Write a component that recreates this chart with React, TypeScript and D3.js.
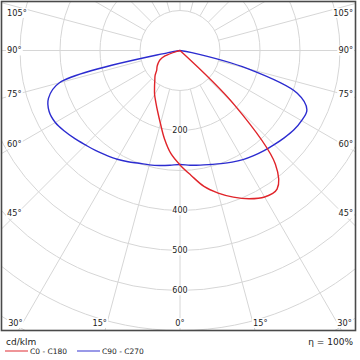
import React from "react";
import * as d3 from "d3";

// Photometric data (cd/klm) sampled every 5° from nadir (0°) to horizontal (90°)
const ANGLES = [0, 5, 10, 15, 20, 25, 30, 35, 40, 45, 50, 55, 60, 65, 70, 75, 80, 85, 90];
const C0 = [286, 313, 345, 369, 390, 409, 423, 423, 371, 193, 0, 0, 0, 0, 0, 0, 0, 0, 0];
const C180 = [286, 259, 224, 189, 163, 143, 127, 111, 98, 88, 76, 70, 63, 55, 40, 8, 0, 0, 0];
const C90 = [286, 288, 291, 295, 301, 308, 315, 321, 327, 333, 340, 347, 351, 350, 312, 175, 30, 0, 0];
const C270 = [285, 288, 292, 296, 300, 307, 314, 320, 327, 334, 343, 352, 360, 361, 350, 312, 30, 0, 0];

const RINGS = [100, 200, 300, 400, 500, 600, 700, 800, 900];
const RING_LABELS = [200, 400, 500, 600];
const SPOKES = d3.range(0, 360, 15);
const ANGLE_LABELS = [105, 90, 75, 60, 45, 30, 15];

const LEGEND = [
  { name: "C0 - C180", color: "#e0242a" },
  { name: "C90 - C270", color: "#2c2cd0" },
];

const W = 360, H = 360;
const FX0 = 1.5, FY0 = 1.5, FX1 = 355.5, FY1 = 330.5;
const CX = 180, CY = 50.5;
const FONT = "DejaVu Sans, Verdana, sans-serif";

const r = d3.scaleLinear().domain([0, 100]).range([0, 40]);
const rad = (deg: number) => (deg * Math.PI) / 180;

function curvePoints(left: number[], right: number[]): [number, number][] {
  const pts: [number, number][] = [];
  for (let i = ANGLES.length - 1; i >= 0; i--) {
    const a = rad(ANGLES[i]);
    const rr = r(left[i]);
    pts.push([CX - rr * Math.sin(a), CY + rr * Math.cos(a)]);
  }
  for (let i = 1; i < ANGLES.length; i++) {
    const a = rad(ANGLES[i]);
    const rr = r(right[i]);
    pts.push([CX + rr * Math.sin(a), CY + rr * Math.cos(a)]);
  }
  return pts;
}

const line = d3.line<[number, number]>().curve(d3.curveCatmullRom.alpha(0.5));

function Label({ x, y, text, anchor, size }: { x: number; y: number; text: string; anchor: string; size: number }) {
  const w = text.length * size * 0.6;
  const x0 = anchor === "start" ? x : anchor === "end" ? x - w : x - w / 2;
  return (
    <g>
      <rect x={x0 - 1} y={y - size * 0.6} width={w + 2} height={size * 1.2} fill="#fff" />
      <text x={x} y={y} dy="0.35em" textAnchor={anchor} fontSize={size} fill="#222" fontFamily={FONT}>
        {text}
      </text>
    </g>
  );
}

export default function App() {
  const red = curvePoints(C180, C0);
  const blue = curvePoints(C270, C90);
  const inner = r(100);
  const far = 700;

  const angleLabels: { x: number; y: number; text: string; anchor: string }[] = [];
  ANGLE_LABELS.forEach((a) => {
    const t = `${a}°`;
    if (a >= 45) {
      const dy = 163 / Math.tan(rad(a));
      const y = Math.max(13, CY + dy);
      angleLabels.push({ x: 7, y, text: t, anchor: "start" });
      angleLabels.push({ x: 353, y, text: t, anchor: "end" });
    } else {
      const y = 323;
      const dx = (y - CY) * Math.tan(rad(a));
      angleLabels.push({ x: CX - dx, y, text: t, anchor: "end" });
      angleLabels.push({ x: CX + dx, y, text: t, anchor: "start" });
    }
  });
  angleLabels.push({ x: CX, y: 323, text: "0°", anchor: "middle" });

  return (
    <svg width={W} height={H} style={{ position: "absolute", left: 0, top: 0, background: "#fff" }}>
      <defs>
        <clipPath id="frame">
          <rect x={FX0} y={FY0} width={FX1 - FX0} height={FY1 - FY0} />
        </clipPath>
      </defs>
      <rect x={0} y={0} width={W} height={H} fill="#fff" />
      <g clipPath="url(#frame)">
        {RINGS.map((v) => (
          <circle key={v} cx={CX} cy={CY} r={r(v)} fill="none" stroke="#d6d6d6" strokeWidth={1} />
        ))}
        {SPOKES.map((a) => (
          <line
            key={a}
            x1={CX + inner * Math.sin(rad(a))}
            y1={CY + inner * Math.cos(rad(a))}
            x2={CX + far * Math.sin(rad(a))}
            y2={CY + far * Math.cos(rad(a))}
            stroke="#d6d6d6"
            strokeWidth={1}
          />
        ))}
        {RING_LABELS.map((v) => (
          <Label key={v} x={CX} y={CY + r(v)} text={String(v)} anchor="middle" size={8} />
        ))}
        {angleLabels.map((l, i) => (
          <Label key={i} x={l.x} y={l.y} text={l.text} anchor={l.anchor} size={8.2} />
        ))}
        <path d={line(blue) || ""} fill="none" stroke={LEGEND[1].color} strokeWidth={1.4} />
        <path d={line(red) || ""} fill="none" stroke={LEGEND[0].color} strokeWidth={1.4} />
      </g>
      <rect x={FX0} y={FY0} width={FX1 - FX0} height={FY1 - FY0} fill="none" stroke="#4a4a4a" strokeWidth={1.6} />
      <text x={6} y={341.5} dy="0.35em" fontSize={9} fill="#222" fontFamily={FONT}>cd/klm</text>
      <text x={353} y={341.5} dy="0.35em" fontSize={9} fill="#222" fontFamily={FONT} textAnchor="end">η = 100%</text>
      {LEGEND.map((s, i) => {
        const x0 = 5 + i * 72;
        return (
          <g key={s.name}>
            <line x1={x0} x2={x0 + 23} y1={351} y2={351} stroke={s.color} strokeWidth={1.2} opacity={0.8} />
            <text x={x0 + 25} y={351.5} dy="0.35em" fontSize={7.5} fill="#222" fontFamily={FONT}>{s.name}</text>
          </g>
        );
      })}
    </svg>
  );
}
